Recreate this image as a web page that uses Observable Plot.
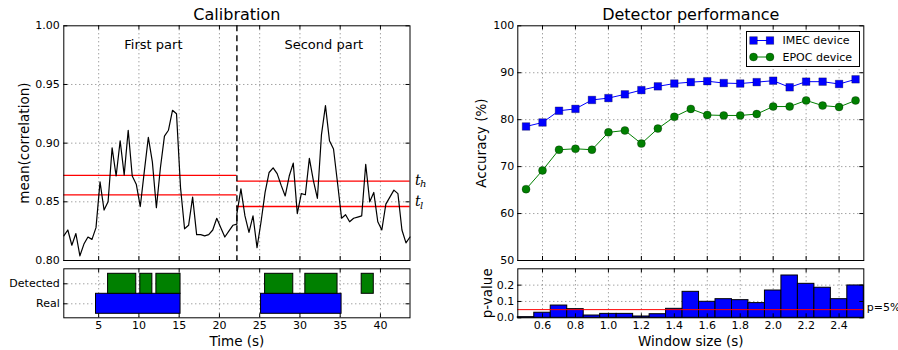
<!DOCTYPE html>
<html><head><meta charset="utf-8">
<script src="https://cdn.jsdelivr.net/npm/d3@7"></script>
<script src="https://cdn.jsdelivr.net/npm/@observablehq/plot@0.6"></script>
<style>
body{margin:0;background:#fff;}
#chart{position:relative;width:898px;height:350px;font-family:"DejaVu Sans",sans-serif;background:#fff;}
#chart > svg{position:absolute;left:0;top:0;}
</style></head><body><div id="chart"></div>
<script>
// ---------- DATA ----------
const calibTime = [0.67,1.17,1.67,2.17,2.67,3.17,3.67,4.17,4.67,5.17,5.67,6.17,6.67,7.17,7.67,8.17,8.67,9.17,9.67,10.17,10.67,11.17,11.67,12.17,12.67,13.17,13.67,14.17,14.67,15.17,15.67,16.17,16.67,17.17,17.67,18.17,18.67,19.17,19.67,20.17,20.67,21.17,21.67,22.17,
  22.17,22.67,23.17,23.67,24.17,24.67,25.17,25.67,26.17,26.67,27.17,27.67,28.17,28.67,29.17,29.67,30.17,30.67,31.17,31.67,32.17,32.67,33.17,33.67,34.17,34.67,35.17,35.67,36.17,36.67,37.17,37.67,38.17,38.67,39.17,39.67,40.17,40.67,41.17,41.67,42.17,42.67,43.17,43.67];
const calibValue = [0.821,0.826,0.813,0.823,0.804,0.814,0.820,0.818,0.828,0.867,0.843,0.850,0.896,0.872,0.902,0.873,0.911,0.872,0.865,0.846,0.876,0.905,0.884,0.845,0.879,0.906,0.911,0.928,0.925,0.862,0.827,0.830,0.854,0.822,0.822,0.821,0.822,0.826,0.836,0.828,0.820,0.825,0.830,0.831,
  0.840,0.861,0.838,0.824,0.838,0.811,0.833,0.858,0.875,0.879,0.874,0.864,0.855,0.872,0.883,0.840,0.857,0.856,0.887,0.868,0.853,0.907,0.932,0.902,0.895,0.866,0.836,0.839,0.833,0.836,0.837,0.838,0.882,0.850,0.858,0.833,0.826,0.848,0.854,0.860,0.857,0.826,0.815,0.820];
const partStart = [0.67, 22.17];
const partEnd = [22.17, 43.67];
const thHigh = [0.8725, 0.8676];
const thLow = [0.856, 0.846];
const partBoundary = [22.17];
const partLabels = ["First part", "Second part"];
const partLabelT = [11.8, 32.96];
const partLabelV = [0.984, 0.984];
const timeTicks = [5,10,15,20,25,30,35,40];
const corrTicks = [0.80,0.85,0.90,0.95,1.00];

const eventRow = ["Real","Real","Detected","Detected","Detected","Detected","Detected","Detected"];
const eventStart = [4.67,25.17,6.17,10.17,12.17,25.67,30.67,37.67];
const eventEnd = [15.17,35.17,9.67,11.67,15.17,29.17,34.67,39.17];
const rowNames = ["Real","Detected"];

const windowSize = [0.5,0.6,0.7,0.8,0.9,1.0,1.1,1.2,1.3,1.4,1.5,1.6,1.7,1.8,1.9,2.0,2.1,2.2,2.3,2.4,2.5];
const imecAcc = [78.55,79.4,81.9,82.3,84.2,84.6,85.4,86.3,87.1,87.7,88.0,88.2,87.8,87.7,88.0,88.3,86.9,88.1,88.1,87.6,88.6];
const epocAcc = [65.2,69.2,73.6,73.8,73.6,77.3,77.7,74.9,78.1,80.6,82.3,81.0,80.9,80.9,81.2,82.8,82.8,84.1,83.0,82.7,84.1];
const pValue = [0.004,0.031,0.075,0.053,0.014,0.024,0.024,0.008,0.022,0.055,0.159,0.098,0.114,0.108,0.090,0.167,0.259,0.208,0.184,0.114,0.198];
const pThreshold = [0.05];
const winTicks = [0.6,0.8,1.0,1.2,1.4,1.6,1.8,2.0,2.2,2.4];
const accTicks = [50,60,70,80,90,100];
const pTicks = [0.0,0.1,0.2];
const seriesNames = ["IMEC device","EPOC device"];

// ---------- TABLES ----------
const calib = calibTime.map((t,i)=>({t, v: calibValue[i]}));
const parts = partStart.map((s,i)=>({start:s, end:partEnd[i], th:thHigh[i], tl:thLow[i]}));
const events = eventStart.map((s,i)=>({row: rowNames.indexOf(eventRow[i]), name: eventRow[i], start:s, end:eventEnd[i]}));
const acc = windowSize.map((w,i)=>({w, imec: imecAcc[i], epoc: epocAcc[i], p: pValue[i]}));

// ---------- LAYOUT ----------
const W = 898, H = 350;
const FS = 11;
const grid = {stroke:"#000", strokeOpacity:0.75, strokeDasharray:"1,3", strokeWidth:0.7};
const style = {fontFamily:"DejaVu Sans", fontSize: FS+"px", background:"none", color:"black"};
const chart = document.getElementById("chart");
const centered = {textAnchor:"middle", lineAnchor:"middle"};

function frameTicks(xt, yt, fw, fh){
  return [
    Plot.tickX(xt, {x:d=>d, insetTop: fh-4, stroke:"black"}),
    Plot.tickX(xt, {x:d=>d, insetBottom: fh-4, stroke:"black"}),
    Plot.tickY(yt, {y:d=>d, insetRight: fw-4, stroke:"black"}),
    Plot.tickY(yt, {y:d=>d, insetLeft: fw-4, stroke:"black"})
  ];
}

// Panel A: calibration
{
  const L=63.3, R=409.5, T=25.3, B=260;
  const fw=R-L, fh=B-T;
  chart.appendChild(Plot.plot({
    width:W, height:H, style,
    marginLeft:L, marginRight:W-R, marginTop:T, marginBottom:H-B,
    x:{domain:[partStart[0], partEnd[1]], axis:null},
    y:{domain:[0.80,1.00], axis:null},
    marks:[
      Plot.gridX(timeTicks, grid),
      Plot.gridY(corrTicks.slice(1,-1), grid),
      Plot.ruleY(parts, {x1:"start", x2:"end", y:"th", stroke:"#ff0000", strokeWidth:1.3}),
      Plot.ruleY(parts, {x1:"start", x2:"end", y:"tl", stroke:"#ff0000", strokeWidth:1.3}),
      Plot.line(calib, {x:"t", y:"v", stroke:"black", strokeWidth:1.2}),
      Plot.ruleX(partBoundary, {stroke:"black", strokeDasharray:"6,4", strokeWidth:1.4}),
      Plot.text(partLabels, {x:(d,i)=>partLabelT[i], y:(d,i)=>partLabelV[i], text:d=>d, fontSize:13, ...centered}),
      ...frameTicks(timeTicks, corrTicks, fw, fh),
      Plot.axisY(corrTicks, {tickSize:0, tickPadding:4, tickFormat:".2f", label:null, fontSize:FS}),
      Plot.text(["t"], {x:()=>partEnd[1], y:()=>thHigh[1], dx:5, dy:-1, text:d=>d, textAnchor:"start", fontFamily:"DejaVu Serif", fontStyle:"italic", fontSize:14}),
      Plot.text(["h"], {x:()=>partEnd[1], y:()=>thHigh[1], dx:10, dy:3, text:d=>d, textAnchor:"start", fontFamily:"DejaVu Serif", fontStyle:"italic", fontSize:10}),
      Plot.text(["t"], {x:()=>partEnd[1], y:()=>thLow[1], dx:5, dy:-5, text:d=>d, textAnchor:"start", fontFamily:"DejaVu Serif", fontStyle:"italic", fontSize:14}),
      Plot.text(["l"], {x:()=>partEnd[1], y:()=>thLow[1], dx:10, dy:-1, text:d=>d, textAnchor:"start", fontFamily:"DejaVu Serif", fontStyle:"italic", fontSize:10}),
      Plot.text(["Calibration"], {frameAnchor:"top", dy:-11, text:d=>d, fontSize:16, ...centered}),
      Plot.text(["mean(correlation)"], {frameAnchor:"left", dx:-39, rotate:-90, text:d=>d, fontSize:13.5, ...centered}),
      Plot.frame({stroke:"black", strokeWidth:1})
    ]
  }));
}

// Panel B: detected / real
{
  const L=63.3, R=409.5, T=268.3, B=317.3;
  const fw=R-L, fh=B-T;
  chart.appendChild(Plot.plot({
    width:W, height:H, style,
    marginLeft:L, marginRight:W-R, marginTop:T, marginBottom:H-B,
    x:{domain:[partStart[0], partEnd[1]], axis:null},
    y:{domain:[-0.7,1.75], axis:null},
    marks:[
      Plot.gridX(timeTicks, grid),
      Plot.gridY([0,1], grid),
      Plot.rect(events, {x1:"start", x2:"end", y1:d=>d.row-0.5, y2:d=>d.row+0.5,
        fill:d=>d.name==="Real"?"#0000ff":"#008000", stroke:"black", strokeWidth:1}),
      ...frameTicks(timeTicks, [0,1], fw, fh),
      Plot.axisY([0,1], {tickSize:0, tickPadding:4, tickFormat:d=>rowNames[d], label:null, fontSize:FS}),
      Plot.axisX(timeTicks, {tickSize:0, tickPadding:3, label:null, fontSize:FS}),
      Plot.text(["Time (s)"], {frameAnchor:"bottom", dy:24, text:d=>d, fontSize:13.5, ...centered}),
      Plot.frame({stroke:"black", strokeWidth:1})
    ]
  }));
}

// Panel C: accuracy
{
  const L=517.3, R=863.3, T=25.3, B=260;
  const fw=R-L, fh=B-T;
  chart.appendChild(Plot.plot({
    width:W, height:H, style,
    marginLeft:L, marginRight:W-R, marginTop:T, marginBottom:H-B,
    x:{domain:[0.45,2.55], axis:null},
    y:{domain:[50,100], axis:null},
    marks:[
      Plot.gridX(winTicks, grid),
      Plot.gridY(accTicks.slice(1,-1), grid),
      Plot.line(acc, {x:"w", y:"imec", stroke:"#0000ff", strokeWidth:1}),
      Plot.line(acc, {x:"w", y:"epoc", stroke:"#008000", strokeWidth:1}),
      Plot.dot(acc, {x:"w", y:"imec", symbol:"square", r:4.3, fill:"#0000ff", stroke:"#000", strokeOpacity:0.45, strokeWidth:0.6}),
      Plot.dot(acc, {x:"w", y:"epoc", symbol:"circle", r:4, fill:"#008000", stroke:"#000", strokeOpacity:0.45, strokeWidth:0.6}),
      ...frameTicks(winTicks, accTicks, fw, fh),
      Plot.axisY(accTicks, {tickSize:0, tickPadding:3.5, label:null, fontSize:FS}),
      Plot.text(["Detector performance"], {frameAnchor:"top", dy:-11, text:d=>d, fontSize:16, ...centered}),
      Plot.text(["Accuracy (%)"], {frameAnchor:"left", dx:-36.5, rotate:-90, text:d=>d, fontSize:13.5, ...centered}),
      Plot.frame({stroke:"black", strokeWidth:1})
    ]
  }));
}

// Panel D: p-values
{
  const L=517.3, R=863.3, T=268.3, B=317.3;
  const fw=R-L, fh=B-T;
  chart.appendChild(Plot.plot({
    width:W, height:H, style,
    marginLeft:L, marginRight:W-R, marginTop:T, marginBottom:H-B,
    x:{domain:[0.45,2.55], axis:null},
    y:{domain:[0,0.3], axis:null},
    marks:[
      Plot.gridX(winTicks, grid),
      Plot.gridY(pTicks.slice(1), grid),
      Plot.rectY(acc, {x1:d=>d.w-0.05, x2:d=>d.w+0.05, y:"p", fill:"#0000ff", stroke:"black", strokeWidth:1}),
      Plot.ruleY(pThreshold, {stroke:"#ff0000", strokeWidth:1}),
      Plot.text(["p=5%"], {x:()=>2.55, y:()=>pThreshold[0], dx:3, dy:-2, text:d=>d, textAnchor:"start", lineAnchor:"middle", fontSize:FS}),
      ...frameTicks(winTicks, pTicks, fw, fh),
      Plot.axisY(pTicks, {tickSize:0, tickPadding:3.5, tickFormat:".1f", label:null, fontSize:FS}),
      Plot.axisX(winTicks, {tickSize:0, tickPadding:3, tickFormat:".1f", label:null, fontSize:FS}),
      Plot.text(["Window size (s)"], {frameAnchor:"bottom", dy:24, text:d=>d, fontSize:13.5, ...centered}),
      Plot.text(["p-value"], {frameAnchor:"left", dx:-30.5, rotate:-90, text:d=>d, fontSize:13.5, ...centered}),
      Plot.frame({stroke:"black", strokeWidth:1})
    ]
  }));
}

// Legend (inside accuracy panel, upper right)
{
  const lg = d3.select(chart).append("svg")
    .style("position","absolute").style("left","746px").style("top","30.5px")
    .attr("width",114).attr("height",36);
  lg.append("rect").attr("x",0.5).attr("y",0.5).attr("width",113).attr("height",35)
    .attr("fill","white").attr("stroke","black").attr("stroke-width",1);
  const rows = [{name:seriesNames[0], color:"#0000ff", sym:"square", cy:9.5},
                {name:seriesNames[1], color:"#008000", sym:"circle", cy:26}];
  rows.forEach(r=>{
    lg.append("line").attr("x1",7.5).attr("x2",24).attr("y1",r.cy).attr("y2",r.cy).attr("stroke",r.color).attr("stroke-width",1);
    [7.5,24].forEach(cx=>{
      if(r.sym==="square") lg.append("rect").attr("x",cx-3.8).attr("y",r.cy-3.8).attr("width",7.6).attr("height",7.6).attr("fill",r.color).attr("stroke","rgba(0,0,0,0.45)").attr("stroke-width",0.6);
      else lg.append("circle").attr("cx",cx).attr("cy",r.cy).attr("r",4).attr("fill",r.color).attr("stroke","rgba(0,0,0,0.45)").attr("stroke-width",0.6);
    });
    lg.append("text").attr("x",36.5).attr("y",r.cy).attr("dy","0.35em").attr("font-size",11).attr("font-family","DejaVu Sans").text(r.name);
  });
}
</script></body></html>
